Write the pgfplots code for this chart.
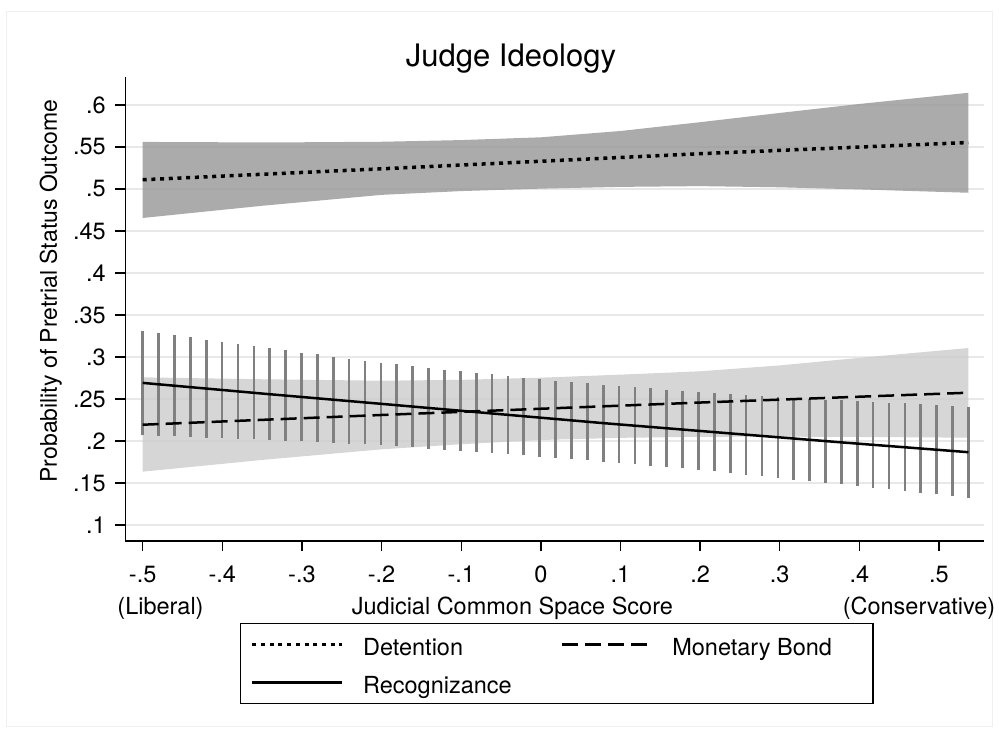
\documentclass[border=0pt]{standalone}
\usepackage{fontspec}
\setmainfont{TeX Gyre Heros}
\usepackage{pgfplots}
\pgfplotsset{compat=1.18}
\usepackage{pgfplotstable}
\definecolor{gridc}{HTML}{E8E8E8}
\definecolor{darkband}{HTML}{969696}
\definecolor{lightband}{HTML}{CCCCCC}
\definecolor{barc}{HTML}{808080}
\newcommand{\F}{\fontsize{23.5bp}{28bp}\selectfont}
\pgfplotstableread{
x hi lo
-0.5000 0.3313 0.2070
-0.4801 0.3286 0.2063
-0.4601 0.3262 0.2056
-0.4402 0.3234 0.2049
-0.4202 0.3206 0.2041
-0.4003 0.3179 0.2034
-0.3803 0.3155 0.2027
-0.3604 0.3127 0.2019
-0.3405 0.3103 0.2011
-0.3205 0.3079 0.2003
-0.3006 0.3052 0.1995
-0.2806 0.3032 0.1987
-0.2607 0.3004 0.1979
-0.2408 0.2980 0.1970
-0.2208 0.2956 0.1961
-0.2009 0.2933 0.1952
-0.1809 0.2913 0.1940
-0.1610 0.2893 0.1925
-0.1410 0.2869 0.1911
-0.1211 0.2849 0.1898
-0.1012 0.2829 0.1885
-0.0812 0.2810 0.1873
-0.0613 0.2794 0.1861
-0.0413 0.2774 0.1845
-0.0214 0.2754 0.1829
-0.0014 0.2738 0.1813
0.0185 0.2718 0.1802
0.0384 0.2702 0.1786
0.0584 0.2687 0.1770
0.0783 0.2671 0.1754
0.0983 0.2655 0.1738
0.1182 0.2639 0.1722
0.1381 0.2627 0.1706
0.1581 0.2611 0.1690
0.1780 0.2599 0.1675
0.1980 0.2587 0.1659
0.2179 0.2575 0.1638
0.2379 0.2560 0.1615
0.2578 0.2548 0.1599
0.2777 0.2536 0.1579
0.2977 0.2524 0.1560
0.3176 0.2512 0.1540
0.3376 0.2504 0.1520
0.3575 0.2492 0.1504
0.3774 0.2484 0.1484
0.3974 0.2476 0.1464
0.4173 0.2468 0.1444
0.4373 0.2456 0.1425
0.4572 0.2448 0.1405
0.4772 0.2440 0.1385
0.4971 0.2433 0.1369
0.5170 0.2421 0.1345
0.5370 0.2409 0.1325
}\recogci
\begin{document}
\begin{tikzpicture}[x=1bp,y=1bp]
\path[use as bounding box] (-125.5,-196) rectangle (873.5,541);
\draw[color=black!6, line width=1bp] (-118.5,529) rectangle (866.5,-185);
\begin{axis}[
  at={(0,0)}, anchor=south west,
  scale only axis, width=858.8bp, height=464bp,
  xmin=-0.5216, xmax=0.5569, ymin=0.081, ymax=0.6333,
  axis x line*=bottom, axis y line*=left,
  axis line style={line width=1.3bp, -},
  xtick={-0.5,-0.4,-0.3,-0.2,-0.1,0,0.1,0.2,0.3,0.4,0.5},
  xticklabels={-.5,-.4,-.3,-.2,-.1,0,.1,.2,.3,.4,.5},
  ytick={0.1,0.15,0.2,0.25,0.3,0.35,0.4,0.45,0.5,0.55,0.6},
  yticklabels={.1,.15,.2,.25,.3,.35,.4,.45,.5,.55,.6},
  tick align=outside, major tick length=10bp,
  tick style={line width=1.3bp, black},
  ymajorgrids, grid style={gridc, line width=1.5bp},
  tick label style={font=\F},
  xticklabel style={anchor=base, yshift=-31bp, inner sep=0pt},
  yticklabel style={anchor=east, inner sep=0pt, xshift=-9.5bp},
  legend style={at={(0.1333,-0.1767)}, anchor=north west, draw=black,
    line width=1.3bp, inner xsep=10bp, inner ysep=7bp, font=\F,
    row sep=10bp,
    nodes={inner sep=0pt, text height=25bp, text depth=3bp},
    /tikz/every odd column/.append style={column sep=19bp},
    /tikz/every even column/.append style={column sep=49bp}},
  legend columns=2, legend cell align=left,
  legend image code/.code={\draw[#1] (0bp,0bp) -- (90bp,0bp);},
]
% Detention CI band
\addplot[forget plot, draw=none, fill=darkband, fill opacity=0.8] coordinates {
(-0.5,0.5560) (-0.4,0.5556) (-0.3,0.5556) (-0.2,0.5562) (-0.1,0.5582) (0,0.5615) (0.1,0.5690) (0.2,0.5795) (0.3,0.5905) (0.4,0.6012) (0.537,0.6145)
(0.537,0.4955) (0.4,0.4995) (0.3,0.5020) (0.2,0.5034) (0.1,0.5025) (0,0.5004) (-0.1,0.4975) (-0.2,0.4930) (-0.35,0.4800) (-0.5,0.4655)
} -- cycle;
% Monetary Bond CI band
\addplot[forget plot, draw=none, fill=lightband, fill opacity=0.8] coordinates {
(-0.5,0.2758) (-0.35,0.2735) (-0.2,0.2718) (-0.1,0.2728) (0,0.2754) (0.1,0.2790) (0.2,0.2830) (0.3,0.2900) (0.4,0.2990) (0.537,0.3107)
(0.537,0.2040) (0.4,0.2048) (0.3,0.2052) (0.2,0.2050) (0.1,0.2038) (0,0.2012) (-0.1,0.1962) (-0.2,0.1901) (-0.35,0.1775) (-0.5,0.1635)
} -- cycle;
% Recognizance CI bars
\addplot[forget plot, draw=none, mark=none,
  error bars/.cd, y dir=plus, y explicit, error mark=none,
  error bar style={draw=barc, line width=2.7bp, solid}]
  table[x=x, y=lo, y error plus expr=\thisrow{hi}-\thisrow{lo}] {\recogci};
% Lines
\addplot[black, line width=3.5bp, dash pattern=on 4bp off 4.7bp] coordinates {
(-0.5,0.5110) (-0.2,0.5240) (0,0.5330) (0.2,0.5420) (0.537,0.5553)};
\addlegendentry{Detention}
\addplot[black, line width=2.5bp, dash pattern=on 16bp off 7bp] coordinates {
(-0.5,0.2194) (-0.2,0.2310) (0,0.2384) (0.2,0.2458) (0.537,0.2575)};
\addlegendentry{Monetary Bond\hspace*{31bp}}
\addplot[black, line width=2.5bp] coordinates {
(-0.5,0.2692) (-0.3405,0.2557) (-0.2009,0.2443) (-0.0613,0.2328) (0.0783,0.2213) (0.2179,0.2106) (0.3774,0.1984) (0.537,0.1867)};
\addlegendentry{Recognizance}
\end{axis}
\node[anchor=base, font=\fontsize{31bp}{36bp}\selectfont] at (385.5,474.3) {Judge Ideology};
\node[anchor=base west, font=\F, inner sep=0pt] at (226.2,-74) {Judicial Common Space Score};
\node[anchor=base west, font=\F, inner sep=0pt] at (-8.2,-74) {(Liberal)};
\node[anchor=base east, font=\F, inner sep=0pt] at (870,-74) {(Conservative)};
\node[anchor=base, rotate=90, font=\fontsize{23bp}{28bp}\selectfont, inner sep=0pt] at (-68.5,250) {Probability of Pretrial Status Outcome};
\end{tikzpicture}
\end{document}
